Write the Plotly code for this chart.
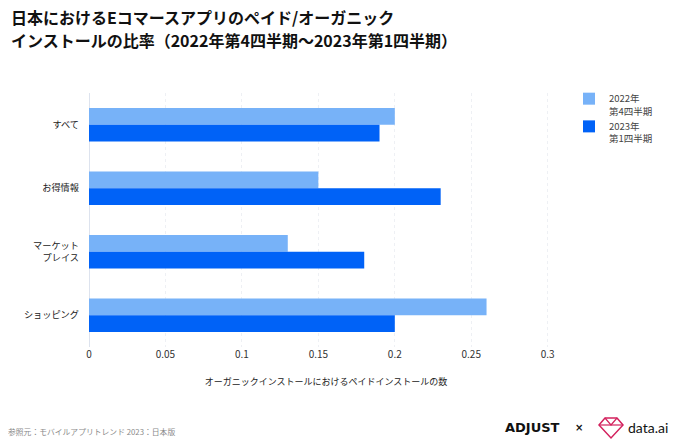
import plotly.graph_objects as go

categories = ["すべて", "お得情報", "マーケット<br>プレイス", "ショッピング"]
series_names = ["2022年<br>第4四半期", "2023年<br>第1四半期"]
q4_2022 = [0.20, 0.15, 0.13, 0.26]
q1_2023 = [0.19, 0.23, 0.18, 0.20]
tick_vals = [0, 0.05, 0.1, 0.15, 0.2, 0.25, 0.3]
tick_text = ["0", "0.05", "0.1", "0.15", "0.2", "0.25", "0.3"]
title_lines = ["日本におけるEコマースアプリのペイド/オーガニック",
               "インストールの比率（2022年第4四半期～2023年第1四半期）"]

FONT = "Noto Sans CJK JP"
LIGHT = "#77B2F8"
DARK = "#0062F7"

# the page body adds an 8px offset; lay out in window pixels and shift
O = 8
W, H = 680 - O, 445 - O
L, R, T, B = 89 - O, 117, 93 - O, 98
PW, PH = W - L - R, H - T - B


def px(x):
    return (x - O - L) / PW


def py(y):
    return (H - B - (y - O)) / PH


fig = go.Figure()
fig.add_trace(go.Bar(y=categories, x=q4_2022, name=series_names[0], orientation="h",
                     marker=dict(color=LIGHT, line=dict(width=0))))
fig.add_trace(go.Bar(y=categories, x=q1_2023, name=series_names[1], orientation="h",
                     marker=dict(color=DARK, line=dict(width=0))))

fig.update_layout(
    width=W, height=H,
    margin=dict(l=L, r=R, t=T, b=B, autoexpand=False),
    paper_bgcolor="white", plot_bgcolor="white",
    font=dict(family=FONT, size=10, color="#333333"),
    barmode="group", bargap=0.476, bargroupgap=0,
    legend=dict(x=px(569), xanchor="left", y=py(86), yanchor="top",
                valign="top",
                font=dict(family=FONT, size=9.5, color="#444444"),
                itemwidth=30, tracegroupgap=0),
    xaxis=dict(range=[0, 0.31], tickvals=tick_vals, ticktext=tick_text,
               automargin=False,
               showgrid=True, gridcolor="#EEF0F4", gridwidth=1, griddash="dot",
               zeroline=True, zerolinecolor="#DDE3EE", zerolinewidth=1,
               showline=False, ticks="", ticklen=0, ticklabelstandoff=0,
               tickfont=dict(family=FONT, size=10, color="#333333"),
               title=dict(text="オーガニックインストールにおけるペイドインストールの数",
                          font=dict(family=FONT, size=9, color="#222222"), standoff=18)),
    yaxis=dict(autorange="reversed", showgrid=False, showline=False, ticks="",
               automargin=False, ticklabelstandoff=9,
               tickfont=dict(family=FONT, size=9.2, color="#1a1a1a")),
)

for line, yc in zip(title_lines, [17, 40]):
    fig.add_annotation(text=f"<b>{line}</b>",
                       xref="paper", yref="paper", x=px(9), y=py(yc), xanchor="left", yanchor="middle",
                       align="left", showarrow=False,
                       font=dict(family=FONT, size=16, color="#111111"))

FY = 431
fig.add_annotation(text="参照元：モバイルアプリトレンド 2023：日本版", xref="paper", yref="paper",
                   x=px(6), y=py(FY), xanchor="left", yanchor="middle", showarrow=False,
                   font=dict(family=FONT, size=7.8, color="#8a8a8a"))
fig.add_annotation(text="<b>ADJUST</b>", xref="paper", yref="paper",
                   x=px(503), y=py(428), xanchor="left", yanchor="middle", showarrow=False,
                   font=dict(family="DejaVu Sans", size=13, color="#111111"))
fig.add_annotation(text="<b>×</b>", xref="paper", yref="paper",
                   x=px(579), y=py(428), xanchor="center", yanchor="middle", showarrow=False,
                   font=dict(family="DejaVu Sans", size=10, color="#111111"))
fig.add_annotation(text="data.ai", xref="paper", yref="paper",
                   x=px(626), y=py(428), xanchor="left", yanchor="middle", showarrow=False,
                   font=dict(family="Lato", size=14, color="#111111"))

# data.ai gem icon (decoration)
gem = [(599, 425), (605, 418), (617, 418), (623, 425), (611, 438)]
path = "M " + " L ".join(f"{px(x)},{py(y)}" for x, y in gem) + " Z"
fig.add_shape(type="path", xref="paper", yref="paper", path=path,
              line=dict(color="#D3225E", width=1.5), fillcolor="rgba(0,0,0,0)")
fig.add_shape(type="line", xref="paper", yref="paper",
              x0=px(599), y0=py(425), x1=px(623), y1=py(425),
              line=dict(color="#D3225E", width=1.2))
fig.add_shape(type="path", xref="paper", yref="paper",
              path=f"M {px(605)},{py(418)} L {px(611)},{py(425)} L {px(617)},{py(418)}",
              line=dict(color="#D3225E", width=1.2))

fig.write_html("out.html")
